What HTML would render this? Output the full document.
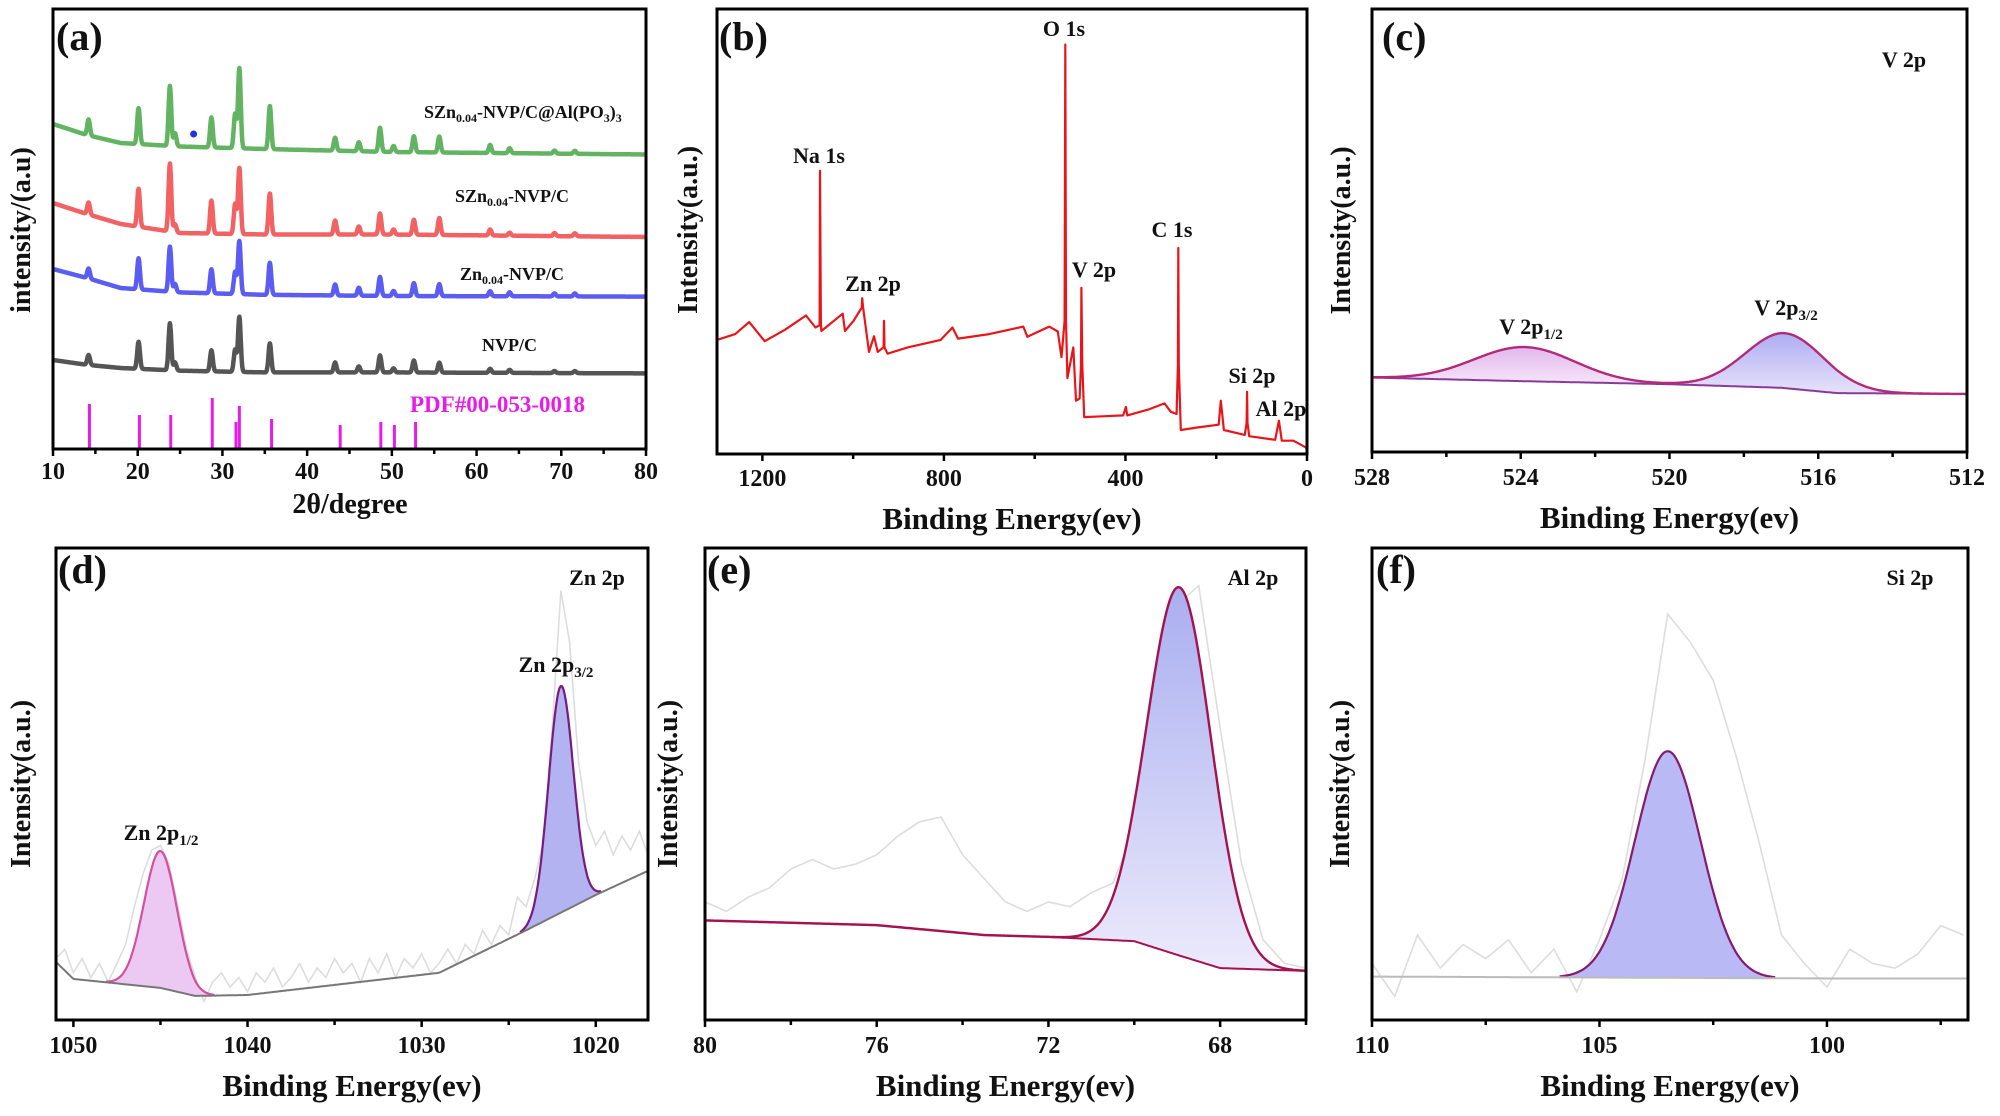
<!DOCTYPE html>
<html><head><meta charset="utf-8"><title>XRD and XPS figure</title>
<style>
html,body{margin:0;padding:0;background:#fff;}
svg{display:block;}
text{font-family:"Liberation Serif","Times New Roman",serif;font-weight:bold;fill:#111;}
</style></head>
<body>
<svg id="fig" xmlns="http://www.w3.org/2000/svg" width="2000" height="1116" viewBox="0 0 2000 1116">
<defs>
<linearGradient id="gBlue" x1="0" y1="0" x2="0" y2="1"><stop offset="0" stop-color="#a9aef0"/><stop offset="1" stop-color="#eceafb"/></linearGradient>
<linearGradient id="gPink" x1="0" y1="0" x2="0" y2="1"><stop offset="0" stop-color="#e2b8ee"/><stop offset="1" stop-color="#f6e6f8"/></linearGradient>
<linearGradient id="gBlueC" x1="0" y1="0" x2="0" y2="1"><stop offset="0" stop-color="#adadf3"/><stop offset="1" stop-color="#e8e2fa"/></linearGradient>
</defs>
</svg>
<script>
// ---------- Panel (a) XRD data ----------
const xrdPeakPos = [14.2, 20.1, 23.8, 24.4, 28.7, 31.5, 32.0, 35.6, 43.3, 46.1, 48.6, 50.2, 52.6, 55.6, 61.6, 63.9, 69.2, 71.6];
const xrdGreenH = [16, 36, 60, 13, 30, 34, 80, 43, 13, 9, 24, 6, 16, 16, 8, 5, 3, 3];
const xrdRedH   = [12, 38, 68, 8, 33, 30, 66, 41, 14, 8, 21, 5, 15, 17, 6, 3, 3, 3];
const xrdBlueH  = [10, 31, 45, 8, 24, 22, 53, 32, 11, 8, 19, 5, 13, 12, 5, 4, 3, 3];
const xrdGrayH  = [10, 27, 47, 8, 21, 22, 55, 29, 10, 6, 17, 4, 12, 10, 4, 3, 2, 2];
const xrdBaseX = [10, 14, 18, 25, 35, 50, 80];
const xrdGreenBase = [327, 316, 308, 304.5, 302, 299, 296.5];
const xrdRedBase   = [248, 237, 227, 218, 216.5, 216.5, 214];
const xrdBlueBase  = [182, 173, 163, 158.6, 156.2, 155, 154.4];
const xrdGrayBase  = [91, 86.2, 83, 80.3, 78.6, 78.6, 77.6];
const pdfPos = [14.3, 20.2, 23.9, 28.8, 31.6, 32.0, 35.8, 43.9, 48.7, 50.3, 52.8];
const pdfH   = [45, 34, 34, 51, 27, 43, 30, 24, 27, 24, 27];
const xrdTicks = [10, 20, 30, 40, 50, 60, 70, 80];

// ---------- Panel (b) survey ----------
const surveyE = [1300,1260,1229,1195,1150,1104,1083,1074,1073,1071,1070,1023,1018,999,981,980,978,965,954,946,933,932,931,924,880,807,781,769,700,625,616,568,549,541,534,532.5,531,528,515,509,501,498,497,495,491,450,405,399,396,350,314,300,287.4,284.5,283.5,282.5,278,240,194.5,190,183,137,133,132,131,127.3,70,62,55.6,30,3,0];
const surveyI = [0.257,0.27,0.297,0.254,0.28,0.312,0.285,0.29,0.638,0.29,0.277,0.316,0.277,0.30,0.33,0.351,0.33,0.230,0.265,0.230,0.24,0.30,0.24,0.226,0.24,0.257,0.285,0.26,0.27,0.287,0.264,0.287,0.276,0.218,0.3,0.922,0.3,0.171,0.24,0.12,0.125,0.2,0.374,0.2,0.083,0.085,0.087,0.106,0.087,0.1,0.114,0.095,0.09,0.2,0.464,0.2,0.054,0.06,0.066,0.12,0.054,0.043,0.07,0.14,0.07,0.04,0.032,0.075,0.03,0.03,0.015,0.01];
const surveyTicks = [1200, 800, 400, 0];

// ---------- Panel (c) V 2p ----------
const vBaseE = [528, 524, 520, 517, 515.5, 512];
const vBaseI = [0.168, 0.160, 0.153, 0.145, 0.133, 0.131];
const vPeakC = [523.9, 516.9];
const vPeakH = [0.077, 0.124];
const vPeakS = [1.35, 1.06];
const vTicks = [528, 524, 520, 516, 512];

// ---------- Panel (d) Zn 2p ----------
const znBaseE = [1051, 1050, 1045, 1043, 1040, 1029, 1024, 1020, 1017];
const znBaseI = [0.123, 0.087, 0.068, 0.051, 0.053, 0.10, 0.19, 0.265, 0.316];
const znPeakC = [1045.0, 1022.0];
const znPeakH = [0.29, 0.48];
const znPeakS = [0.95, 0.71];
const znRawStart = 1051, znRawStep = -0.5;
const znRaw = [0.13,0.15,0.10,0.13,0.09,0.12,0.08,0.12,0.16,0.24,0.31,0.36,0.37,0.33,0.24,0.15,0.09,0.04,0.08,0.10,0.07,0.09,0.06,0.10,0.08,0.11,0.07,0.09,0.12,0.08,0.11,0.09,0.13,0.10,0.12,0.08,0.13,0.10,0.14,0.09,0.13,0.11,0.14,0.10,0.12,0.15,0.12,0.16,0.14,0.19,0.16,0.20,0.18,0.26,0.24,0.30,0.38,0.62,0.91,0.80,0.55,0.42,0.37,0.40,0.35,0.39,0.36,0.40,0.35];
const znTicks = [1050, 1040, 1030, 1020];

// ---------- Panel (e) Al 2p ----------
const alBaseE = [80, 76, 73.5, 72, 70, 69, 68, 66];
const alBaseI = [0.211, 0.201, 0.180, 0.176, 0.167, 0.138, 0.110, 0.104];
const alPeakC = [68.95];
const alPeakH = [0.78];
const alPeakS = [0.75];
const alRawStart = 80, alRawStep = -0.5;
const alRaw = [0.25,0.23,0.26,0.28,0.32,0.34,0.32,0.33,0.35,0.39,0.42,0.43,0.35,0.30,0.25,0.23,0.25,0.24,0.27,0.29,0.40,0.66,0.88,0.92,0.62,0.33,0.17,0.12,0.11];
const alTicks = [80, 76, 72, 68];

// ---------- Panel (f) Si 2p ----------
const siBaseE = [110, 100, 96.9];
const siBaseI = [0.092, 0.088, 0.088];
const siPeakC = [103.5];
const siPeakH = [0.48];
const siPeakS = [0.72];
const siRawStart = 110, siRawStep = -0.5;
const siRaw = [0.12,0.05,0.18,0.11,0.16,0.13,0.17,0.10,0.15,0.06,0.17,0.30,0.55,0.86,0.80,0.72,0.56,0.38,0.18,0.12,0.07,0.15,0.12,0.11,0.14,0.20,0.18];
const siTicks = [110, 105, 100];

const NS = "http://www.w3.org/2000/svg";
const svg = document.getElementById("fig");
function mk(tag, attrs, parent) {
  const e = document.createElementNS(NS, tag);
  for (const k in attrs) e.setAttribute(k, attrs[k]);
  (parent || svg).appendChild(e);
  return e;
}
function lin(d0, d1, r0, r1) { return v => r0 + (v - d0) * (r1 - r0) / (d1 - d0); }
function interp(xs, ys, x) {
  const asc = xs[0] < xs[xs.length - 1];
  for (let i = 0; i < xs.length - 1; i++) {
    const a = xs[i], b = xs[i + 1];
    if ((asc && x >= a && x <= b) || (!asc && x <= a && x >= b)) return ys[i] + (ys[i + 1] - ys[i]) * (x - a) / (b - a);
  }
  return asc ? (x < xs[0] ? ys[0] : ys[ys.length - 1]) : (x > xs[0] ? ys[0] : ys[ys.length - 1]);
}
function gauss(x, c, h, s) { return h * Math.exp(-0.5 * ((x - c) / s) * ((x - c) / s)); }
function pathFrom(pts) { return pts.map((p, i) => (i ? "L" : "M") + p[0].toFixed(1) + "," + p[1].toFixed(1)).join(""); }
function txt(x, y, s, size, anchor, name, fill) {
  const t = mk("text", {x: x, y: y, "font-size": size, "text-anchor": anchor || "start"});
  if (fill) t.setAttribute("style", "fill:" + fill);
  t.innerHTML = s;
  
  
  return t;
}
function frame(x0, y0, x1, y1, name) {
  const r = mk("rect", {x: x0, y: y0, width: x1 - x0, height: y1 - y0, fill: "none", stroke: "#000", "stroke-width": 3});
  
  
}
function ticks(xs, ticksArr, minorStep, lo, hi, yb, labelY, name) {
  const g = mk("g", {});
  
  
  const start = Math.min(lo, hi), end = Math.max(lo, hi);
  for (let v = Math.ceil(start / minorStep - 1e-9) * minorStep; v <= end + 1e-9; v += minorStep) {
    const isMajor = ticksArr.some(t => Math.abs(t - v) < 1e-6);
    const X = xs(v);
    mk("line", {x1: X, x2: X, y1: yb, y2: yb + (isMajor ? 7 : 5), stroke: "#000", "stroke-width": 2.5}, g);
  }
  ticksArr.forEach(v => {
    const t = mk("text", {x: xs(v), y: labelY, "font-size": 24, "text-anchor": "middle"}, g);
    t.textContent = v;
    
    
  });
}
function ytitle(x, y, s, name) {
  const t = mk("text", {x: 0, y: 0, "font-size": 28, "text-anchor": "middle", transform: "translate(" + x + "," + y + ") rotate(-90)"});
  t.textContent = s;
  
  
}

// ===== Panel (a) =====
(function () {
  const xs = lin(10, 80, 53, 646);
  const ys = v => 451 - v;
  const series = [
    [xrdGrayBase, xrdGrayH, "#555555", "xrd-nvp-c"],
    [xrdBlueBase, xrdBlueH, "#5b5cf2", "xrd-zn-nvp-c"],
    [xrdRedBase, xrdRedH, "#f26262", "xrd-szn-nvp-c"],
    [xrdGreenBase, xrdGreenH, "#62b462", "xrd-szn-nvp-c-alpo3"]
  ];
  series.forEach(s => {
    const pts = [];
    for (let x = 10; x <= 80.001; x += 0.05) {
      let v = interp(xrdBaseX, s[0], x);
      xrdPeakPos.forEach((p, i) => { v += gauss(x, p, s[1][i], 0.16); });
      pts.push([xs(x), ys(v)]);
    }
    const p = mk("path", {d: pathFrom(pts), fill: "none", stroke: s[2], "stroke-width": 4.5, "stroke-linejoin": "round"});
    
    
  });
  pdfPos.forEach((p, i) => {
    const l = mk("line", {x1: xs(p), x2: xs(p), y1: 449, y2: 449 - pdfH[i], stroke: "#e81ce8", "stroke-width": 3});
    
    
  });
  const dot = mk("circle", {cx: xs(26.6), cy: 134, r: 3.5, fill: "#2233dd"});
  
  
  frame(53, 9, 646, 449, "panel-a-frame");
  ticks(xs, xrdTicks, 5, 10, 80, 449, 479, "panel-a-x-axis");
  txt(56, 50, "(a)", 40, "start", "panel-a-letter");
  txt(424, 118, "SZn<tspan font-size='12' dy='4'>0.04</tspan><tspan dy='-4'>-NVP/C@Al(PO</tspan><tspan font-size='12' dy='4'>3</tspan><tspan dy='-4'>)</tspan><tspan font-size='12' dy='4'>3</tspan>", 18, "start", "label-szn-nvp-c-alpo3");
  txt(455, 202, "SZn<tspan font-size='12' dy='4'>0.04</tspan><tspan dy='-4'>-NVP/C</tspan>", 18, "start", "label-szn-nvp-c");
  txt(460, 280, "Zn<tspan font-size='12' dy='4'>0.04</tspan><tspan dy='-4'>-NVP/C</tspan>", 18, "start", "label-zn-nvp-c");
  txt(482, 351, "NVP/C", 18, "start", "label-nvp-c");
  txt(410, 412, "PDF#00-053-0018", 23, "start", "label-pdf", "#e81ce8");
  ytitle(30, 230, "intensity/(a.u)", "panel-a-y-title");
  txt(350, 513, "2θ/degree", 28, "middle", "panel-a-x-title");
})();

// ===== Panel (b) =====
(function () {
  const xs = lin(1300, 0, 717, 1307);
  const ys = lin(0, 1, 454, 10);
  const pts = surveyE.map((e, i) => [xs(e), ys(surveyI[i])]);
  const p = mk("path", {d: pathFrom(pts), fill: "none", stroke: "#e8161a", "stroke-width": 2.2, "stroke-linejoin": "round"});
  
  
  frame(717, 9, 1307, 454, "panel-b-frame");
  ticks(xs, surveyTicks, 200, 0, 1300, 454, 486, "panel-b-x-axis");
  txt(719, 50, "(b)", 40, "start", "panel-b-letter");
  txt(1064, 36, "O 1s", 22, "middle", "label-o1s");
  txt(819, 163, "Na 1s", 22, "middle", "label-na1s");
  txt(873, 291, "Zn 2p", 22, "middle", "label-zn2p");
  txt(1094, 277, "V 2p", 22, "middle", "label-v2p");
  txt(1172, 237, "C 1s", 22, "middle", "label-c1s");
  txt(1252, 383, "Si 2p", 22, "middle", "label-si2p");
  txt(1281, 416, "Al 2p", 22, "middle", "label-al2p");
  ytitle(697, 230, "Intensity(a.u.)", "panel-b-y-title");
  txt(1012, 529, "Binding Energy(ev)", 31, "middle", "panel-b-x-title");
})();

// generic XPS panel
function xpsPanel(o) {
  const xs = lin(o.e0, o.e1, o.x0, o.x1);
  const ys = lin(0, 1, o.yb, o.yt);
  const step = (o.e1 - o.e0) / 600;
  const base = e => interp(o.baseE, o.baseI, e);
  if (o.raw) {
    const pts = o.raw.map((v, i) => [xs(o.rawStart + i * o.rawStep), ys(v)]);
    const r = mk("path", {d: pathFrom(pts), fill: "none", stroke: "#dddddd", "stroke-width": 1.6});
    
    
  }
  o.peakC.forEach((c, k) => {
    const s = o.peakS[k], h = o.peakH[k];
    const lo = Math.max(Math.min(o.e0, o.e1), c - 3.3 * s), hi = Math.min(Math.max(o.e0, o.e1), c + 3.3 * s);
    const top = [], bot = [];
    for (let e = hi; e >= lo - 1e-9; e -= Math.abs(step)) {
      top.push([xs(e), ys(base(e) + gauss(e, c, h, s))]);
      bot.push([xs(e), ys(base(e))]);
    }
    const a = mk("path", {d: pathFrom(top.concat(bot.reverse())) + "Z", fill: o.fills[k], stroke: "none"});
    
    
    if (!o.envelope) {
      const l = mk("path", {d: pathFrom(top), fill: "none", stroke: o.strokes[k], "stroke-width": 2.2});
      
      
    }
  });
  const bpts = [];
  for (let i = 0; i <= 600; i++) { const e = o.e0 + i * step; bpts.push([xs(e), ys(base(e))]); }
  const b = mk("path", {d: pathFrom(bpts), fill: "none", stroke: o.baseStroke, "stroke-width": 2});
  
  
  if (o.envelope) {
    const epts = [];
    for (let i = 0; i <= 600; i++) {
      const e = o.e0 + i * step;
      let v = base(e);
      o.peakC.forEach((c, k) => { v += gauss(e, c, o.peakH[k], o.peakS[k]); });
      epts.push([xs(e), ys(v)]);
    }
    const en = mk("path", {d: pathFrom(epts), fill: "none", stroke: o.envelope, "stroke-width": 2.4});
    
    
  }
  frame(o.x0, o.yt, o.x1, o.yb, o.name + "-frame");
  ticks(xs, o.ticks, o.minor, Math.min(o.e0, o.e1), Math.max(o.e0, o.e1), o.yb, o.yb + 33, o.name + "-x-axis");
  ytitle(o.ytx, (o.yt + o.yb) / 2, "Intensity(a.u.)", o.name + "-y-title");
  txt((o.x0 + o.x1) / 2, o.yb + 76, "Binding Energy(ev)", 31, "middle", o.name + "-x-title");
}

// ===== Panel (c) =====
xpsPanel({name: "panel-c", e0: 528, e1: 512, x0: 1372, x1: 1967, yt: 9, yb: 452,
  baseE: vBaseE, baseI: vBaseI, peakC: vPeakC, peakH: vPeakH, peakS: vPeakS,
  fills: ["url(#gPink)", "url(#gBlueC)"], strokes: ["#c8307c", "#8a1a6a"], envelope: "#b52a78",
  baseStroke: "#8a3a9a", ticks: vTicks, minor: 2, ytx: 1350});
txt(1382, 50, "(c)", 40, "start", "panel-c-letter");
txt(1904, 67, "V 2p", 22, "middle", "label-v2p-title");
txt(1531, 334, "V 2p<tspan font-size='15' dy='5'>1/2</tspan>", 22, "middle", "label-v2p12");
txt(1786, 315, "V 2p<tspan font-size='15' dy='5'>3/2</tspan>", 22, "middle", "label-v2p32");

// ===== Panel (d) =====
xpsPanel({name: "panel-d", e0: 1051, e1: 1017, x0: 56, x1: 648, yt: 548, yb: 1020,
  baseE: znBaseE, baseI: znBaseI, peakC: znPeakC, peakH: znPeakH, peakS: znPeakS,
  raw: znRaw, rawStart: znRawStart, rawStep: znRawStep,
  fills: ["#ecc9f3", "#b3b3f1"], strokes: ["#d4509c", "#7a1a7e"],
  baseStroke: "#777777", ticks: znTicks, minor: 5, ytx: 30});
txt(58, 583, "(d)", 40, "start", "panel-d-letter");
txt(597, 585, "Zn 2p", 22, "middle", "label-zn2p-title");
txt(556, 672, "Zn 2p<tspan font-size='15' dy='5'>3/2</tspan>", 22, "middle", "label-zn2p32");
txt(161, 840, "Zn 2p<tspan font-size='15' dy='5'>1/2</tspan>", 22, "middle", "label-zn2p12");

// ===== Panel (e) =====
xpsPanel({name: "panel-e", e0: 80, e1: 66, x0: 705, x1: 1306, yt: 548, yb: 1020,
  baseE: alBaseE, baseI: alBaseI, peakC: alPeakC, peakH: alPeakH, peakS: alPeakS,
  raw: alRaw, rawStart: alRawStart, rawStep: alRawStep,
  fills: ["url(#gBlue)"], strokes: ["#a0125a"], envelope: "#a5124e",
  baseStroke: "#a5124e", ticks: alTicks, minor: 2, ytx: 677});
txt(707, 583, "(e)", 40, "start", "panel-e-letter");
txt(1253, 585, "Al 2p", 22, "middle", "label-al2p-title");

// ===== Panel (f) =====
xpsPanel({name: "panel-f", e0: 110, e1: 96.9, x0: 1372, x1: 1968, yt: 548, yb: 1020,
  baseE: siBaseE, baseI: siBaseI, peakC: siPeakC, peakH: siPeakH, peakS: siPeakS,
  raw: siRaw, rawStart: siRawStart, rawStep: siRawStep,
  fills: ["#b9b9f5"], strokes: ["#861a6e"],
  baseStroke: "#bbbbbb", ticks: siTicks, minor: 2.5, ytx: 1349});
txt(1376, 583, "(f)", 40, "start", "panel-f-letter");
txt(1910, 585, "Si 2p", 22, "middle", "label-si2p-title");
</script>
</body></html>
